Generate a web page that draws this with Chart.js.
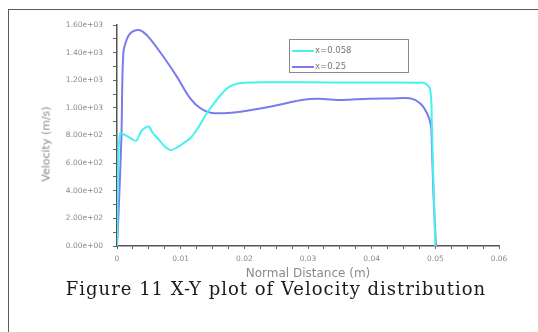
<!DOCTYPE html>
<html>
<head>
<meta charset="utf-8">
<script src="https://cdn.jsdelivr.net/npm/chart.js@4/dist/chart.umd.min.js"></script>
<style>
body { margin: 0; background: #fff; width: 538px; height: 332px; overflow: hidden; position: relative; }
#frame { position: absolute; left: 8px; top: 9px; width: 700px; height: 600px; border: 1.5px solid #5a5a5a; }
#plot { position: absolute; left: 0; top: 0; }
#ytitle { position: absolute; left: 46px; top: 144px; transform: translate(-50%, -50%) rotate(-90deg);
  font: 11px "DejaVu Sans", sans-serif; color: #8a8a8a; white-space: nowrap; }
#legend { position: absolute; left: 289px; top: 39px; width: 118px; height: 32px; border: 1.5px solid #8a8a8a; }
.lg { position: absolute; left: 2px; height: 10px; line-height: 10px; font: 8.5px "DejaVu Sans", sans-serif; color: #777; white-space: nowrap; }
.lg span { display: inline-block; width: 22px; height: 2px; vertical-align: middle; margin-right: 1px; }
#caption { position: absolute; left: 2px; top: 278px; width: 548px; text-align: center; letter-spacing: 1px;
  font: 18px "DejaVu Serif", "Liberation Serif", serif; color: #1a1a1a; white-space: nowrap; }
</style>
</head>
<body>
<div id="frame"></div>
<canvas id="plot" width="538" height="332"></canvas>
<div id="ytitle">Velocity (m/s)</div>
<div id="legend">
  <div class="lg" style="top:5px"><span style="background:#44f2f2"></span>x=0.058</div>
  <div class="lg" style="top:21px"><span style="background:#7b7bee"></span>x=0.25</div>
</div>
<div id="caption">Figure 11 X-Y plot of Velocity distribution</div>
<script>
// normal distance (m) and velocity (m/s)
const distA = [0, 0.0002, 0.0005, 0.0012, 0.0022, 0.0030, 0.0038, 0.0044, 0.0050, 0.0056, 0.0064, 0.0074, 0.0084,
    0.0095, 0.0106, 0.0115, 0.0128, 0.0141, 0.0157, 0.0173, 0.0185, 0.0200, 0.0240, 0.0300, 0.0360,
    0.0420, 0.0470, 0.0484, 0.0492, 0.04945, 0.0496, 0.0500];
const velA = [0, 600, 815, 805, 780, 762, 830, 855, 864, 820, 780, 725, 695,
    715, 750, 780, 860, 961, 1060, 1142, 1170, 1182, 1186, 1185, 1184,
    1183, 1182, 1178, 1129, 889, 623, 0];

const distB = [0, 0.0003, 0.0007, 0.0010, 0.0016, 0.0021, 0.0027, 0.0034, 0.0041, 0.0052, 0.0073, 0.0094,
    0.0115, 0.0131, 0.0147, 0.0167, 0.0194, 0.0240, 0.0290, 0.0316, 0.0353, 0.0395, 0.0430, 0.0460,
    0.0476, 0.0487, 0.0493, 0.04945, 0.0497, 0.0501];
const velB = [0, 300, 800, 1400, 1504, 1540, 1558, 1564, 1550, 1500, 1370, 1226,
    1069, 997, 965, 961, 972, 1008, 1057, 1066, 1057, 1066, 1068, 1069,
    1033, 961, 876, 744, 382, 0];

const seriesNames = ['x=0.058', 'x=0.25'];

function pts(xs, ys) {
    return xs.map(function(x, i) { return {x: x, y: ys[i]}; });
}

function expLabel(v) {
    var s = v.toExponential(2);
    return s.replace(/e([+-])(\d)$/, 'e$10$2');
}

const tickFont = {family: '"DejaVu Sans", sans-serif', size: 7.5};

new Chart(document.getElementById('plot'), {
    type: 'scatter',
    data: {
        datasets: [{
            label: seriesNames[0],
            data: pts(distA, velA),
            showLine: true,
            borderColor: '#44f2f2',
            borderWidth: 2,
            pointRadius: 0,
            tension: 0.35
        }, {
            label: seriesNames[1],
            data: pts(distB, velB),
            showLine: true,
            borderColor: '#7b7bee',
            borderWidth: 2,
            pointRadius: 0,
            tension: 0.35
        }]
    },
    options: {
        responsive: false,
        animation: false,
        devicePixelRatio: 1,
        layout: { padding: {top: 25, right: 39, bottom: 0, left: 0} },
        plugins: { legend: {display: false}, tooltip: {enabled: false} },
        scales: {
            x: {
                type: 'linear',
                min: 0,
                max: 0.06,
                afterFit: function(scale) { scale.height = 86; },
                border: {display: true, color: '#555', width: 1.5},
                grid: {drawOnChartArea: false, drawTicks: true, tickLength: 3, tickColor: '#666'},
                ticks: {
                    stepSize: 0.0025,
                    autoSkip: false,
                    maxRotation: 0,
                    padding: 6,
                    color: '#8a8a8a',
                    font: tickFont,
                    callback: function(v) {
                        var k = v / 0.01;
                        if (Math.abs(k - Math.round(k)) > 1e-6) return '';
                        return String(Math.round(k) / 100);
                    }
                },
                title: {
                    display: true,
                    text: 'Normal Distance (m)',
                    color: '#8a8a8a',
                    font: {family: '"DejaVu Sans", sans-serif', size: 12},
                    padding: {top: 0, bottom: 51}
                }
            },
            y: {
                min: 0,
                max: 1600,
                afterFit: function(scale) { scale.width = 117; },
                border: {display: true, color: '#555', width: 1.5},
                grid: {drawOnChartArea: false, drawTicks: true, tickLength: 4, tickColor: '#666'},
                ticks: {
                    stepSize: 100,
                    autoSkip: false,
                    padding: 10,
                    color: '#8a8a8a',
                    font: tickFont,
                    callback: function(v) {
                        if (v % 200 !== 0) return '';
                        return expLabel(v);
                    }
                }
            }
        }
    }
});
</script>
</body>
</html>
